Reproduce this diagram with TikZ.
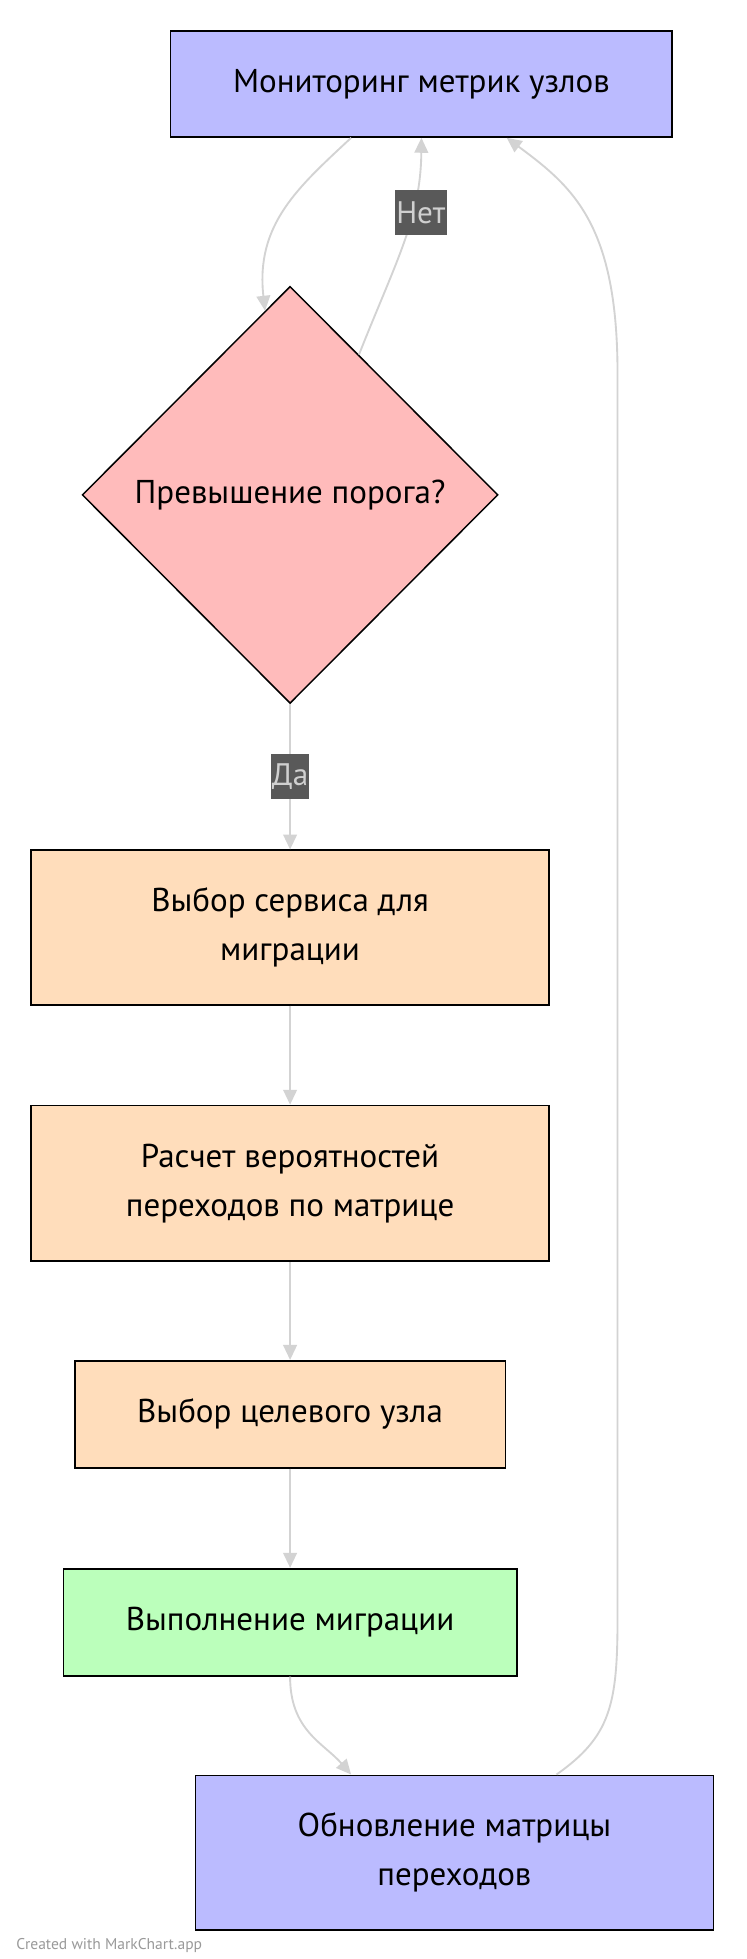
\documentclass[tikz,border=0pt]{standalone}
\usepackage{fontspec}
\setmainfont{PT Sans}
\usetikzlibrary{arrows.meta,shapes.geometric,calc}
\definecolor{lav}{HTML}{BBBBFF}
\definecolor{pinkc}{HTML}{FFBBBB}
\definecolor{peach}{HTML}{FFDDBB}
\definecolor{greenc}{HTML}{BBFFBB}
\definecolor{edgec}{HTML}{D3D3D3}
\definecolor{lblbg}{HTML}{595959}
\definecolor{lbltx}{HTML}{D0D0D0}
\tikzset{
  box/.style={draw=black, line width=1.4pt, rectangle, inner sep=0pt, align=center, font=\fontsize{26.5}{39}\selectfont},
  edge/.style={draw=edgec, line width=1.5pt, -{Triangle[length=12pt,width=11pt]}},
  lbl/.style={fill=lblbg, text=lbltx, inner xsep=1pt, inner ysep=0pt, minimum height=36pt, font=\fontsize{25}{28}\selectfont},
}
\begin{document}
\begin{tikzpicture}[x=1pt,y=-1pt]
\useasboundingbox[fill=white] (0,0) rectangle (600,1573.5);
\node[box, fill=lav, minimum width=403pt, minimum height=85pt] (mon) at (338.5,67.5) {Мониторинг метрик узлов};
\node[draw=black, line width=1.2pt, fill=pinkc, diamond, minimum width=334pt, minimum height=335pt, inner sep=0pt, aspect=1, font=\fontsize{26.5}{30}\selectfont] (dec) at (233,397.5) {Превышение порога?};
\node[box, fill=peach, minimum width=416pt, minimum height=124pt] (sel) at (233,745) {Выбор сервиса для\\миграции};
\node[box, fill=peach, minimum width=416pt, minimum height=125pt] (calc) at (233,950.5) {Расчет вероятностей\\переходов по матрице};
\node[box, fill=peach, minimum width=346pt, minimum height=86pt] (tgt) at (233,1136) {Выбор целевого узла};
\node[box, fill=greenc, minimum width=364pt, minimum height=86pt] (exe) at (233,1303) {Выполнение миграции};
\node[box, fill=lav, minimum width=416pt, minimum height=124pt] (upd) at (365,1488) {Обновление матрицы\\переходов};
% edges
\draw[edge] ([xshift=-56.5pt]mon.south) .. controls (240,150) and (205,180) .. ($(dec.north)!0.12!(dec.west)$);
\draw[edge] ($(dec.north)!0.33!(dec.east)$) .. controls (318,210) and (338,175) .. (mon.south);
\node[lbl] (no) at (338,171) {Нет};
\draw[edge] (dec.south) -- (sel.north);
\node[lbl] (yes) at (233,624) {Да};
\draw[edge] (sel.south) -- (calc.north);
\draw[edge] (calc.south) -- (tgt.north);
\draw[edge] (tgt.south) -- (exe.north);
\draw[edge] (exe.south) .. controls (233,1390) and (260,1400) .. ([xshift=-83pt]upd.north);
\draw[edge] ([xshift=82pt]upd.north) .. controls (490,1395) and (496,1370) .. (496,1300) -- (496,300) .. controls (496,180) and (460,150) .. ([xshift=68.5pt]mon.south);
\node[anchor=base west, text=gray!80, font=\fontsize{12.5}{14}\selectfont, inner sep=0pt] (credit) at (13,1566) {Created with MarkChart.app};
\end{tikzpicture}
\end{document}
